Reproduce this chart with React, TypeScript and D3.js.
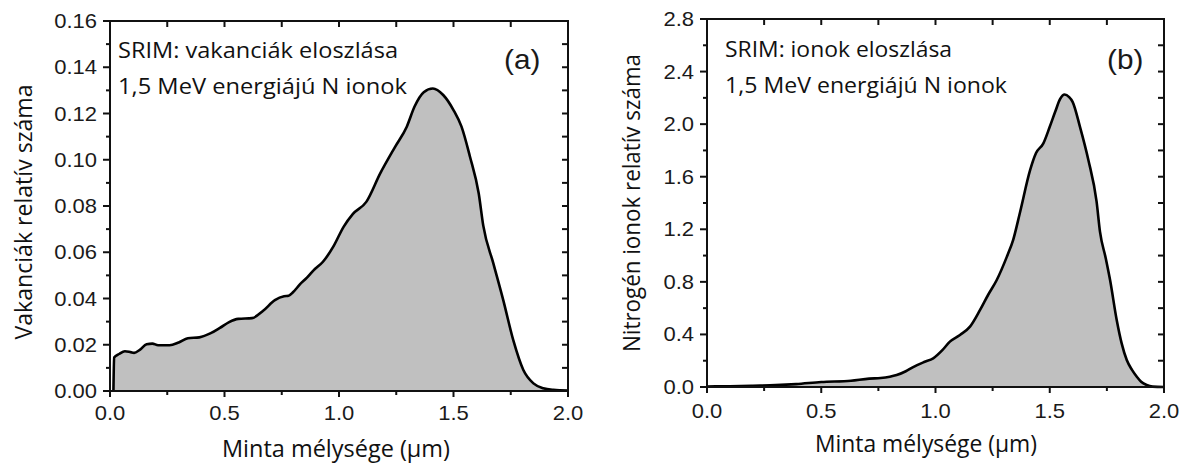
import React from 'react';
import * as d3 from 'd3';

// ---- data ----
const vacancyDepth = [0.015, 0.018, 0.04, 0.065, 0.09, 0.105, 0.13, 0.16, 0.185, 0.21, 0.26, 0.3, 0.34, 0.39, 0.44, 0.48, 0.52, 0.56, 0.62, 0.67, 0.72, 0.76, 0.78, 0.8, 0.83, 0.86, 0.89, 0.93, 0.975, 1.02, 1.06, 1.12, 1.18, 1.245, 1.296, 1.33, 1.37, 1.41, 1.455, 1.5, 1.535, 1.572, 1.61, 1.63, 1.674, 1.717, 1.761, 1.805, 1.849, 1.892, 1.936, 2.0];
const vacancyCount = [0, 0.0145, 0.016, 0.0172, 0.0168, 0.0165, 0.0178, 0.0202, 0.0205, 0.0198, 0.0198, 0.021, 0.0228, 0.0232, 0.025, 0.0273, 0.0298, 0.0312, 0.0315, 0.0348, 0.0393, 0.041, 0.0412, 0.0428, 0.0462, 0.049, 0.0523, 0.0559, 0.0624, 0.071, 0.0765, 0.0819, 0.0941, 0.1056, 0.1143, 0.123, 0.1292, 0.1308, 0.128, 0.1215, 0.1143, 0.1013, 0.0855, 0.0715, 0.0552, 0.0394, 0.022, 0.0091, 0.0033, 0.0012, 0.0005, 0.0002];

const ionDepth = [0, 0.1, 0.2, 0.3, 0.39, 0.5, 0.63, 0.71, 0.76, 0.8, 0.83, 0.87, 0.9, 0.95, 0.99, 1.03, 1.063, 1.107, 1.151, 1.195, 1.23, 1.268, 1.312, 1.34, 1.37, 1.414, 1.44, 1.472, 1.5, 1.525, 1.545, 1.565, 1.585, 1.6, 1.632, 1.669, 1.705, 1.72, 1.745, 1.764, 1.793, 1.815, 1.837, 1.86, 1.881, 1.9, 1.924, 1.95, 2.0];
const ionCount = [0.004, 0.006, 0.01, 0.014, 0.022, 0.038, 0.048, 0.064, 0.068, 0.078, 0.091, 0.12, 0.15, 0.19, 0.218, 0.28, 0.345, 0.396, 0.459, 0.586, 0.7, 0.814, 0.99, 1.12, 1.33, 1.65, 1.78, 1.854, 1.98, 2.1, 2.19, 2.225, 2.205, 2.17, 1.981, 1.727, 1.41, 1.18, 0.98, 0.814, 0.51, 0.33, 0.205, 0.13, 0.078, 0.04, 0.015, 0.003, 0];

const xMajorTicks = [0, 0.5, 1.0, 1.5, 2.0];
const xTickLabels = ['0.0', '0.5', '1.0', '1.5', '2.0'];
const xMinorTicks = [0.25, 0.75, 1.25, 1.75];
const xTopTicks = [0.25, 0.5, 0.75, 1.0, 1.25, 1.5, 1.75];

const vacYTicks = [0, 0.02, 0.04, 0.06, 0.08, 0.1, 0.12, 0.14, 0.16];
const vacYLabels = ['0.00', '0.02', '0.04', '0.06', '0.08', '0.10', '0.12', '0.14', '0.16'];
const vacYMinor = [0.01, 0.03, 0.05, 0.07, 0.09, 0.11, 0.13, 0.15];

const ionYTicks = [0, 0.4, 0.8, 1.2, 1.6, 2.0, 2.4, 2.8];
const ionYLabels = ['0.0', '0.4', '0.8', '1.2', '1.6', '2.0', '2.4', '2.8'];
const ionYMinor = [0.2, 0.6, 1.0, 1.4, 1.8, 2.2, 2.6];

const xTitle = 'Minta mélysége (μm)';
const vacYTitle = 'Vakanciák relatív száma';
const ionYTitle = 'Nitrogén ionok relatív száma';
const vacNote = ['SRIM: vakanciák eloszlása', '1,5 MeV energiájú N ionok'];
const ionNote = ['SRIM: ionok eloszlása', '1,5 MeV energiájú N ionok'];

const NUM_FONT = '"Liberation Sans", Arial, sans-serif';
const TXT_FONT = '"Open Sans", "Noto Sans", sans-serif';

type PanelProps = {
  left: number; right: number; top: number; bottom: number;
  yMax: number; yTicks: number[]; yLabels: string[]; yMinor: number[];
  xs: number[]; ys: number[];
  yTitle: string; yTitleX: number; yTitleY: number; yTitleLen: number;
  xTitleX: number; xTitleY: number; xTitleLen: number;
  note: string[]; noteX: number; noteY: number[]; noteLen: number[];
  tag: string; tagX: number; tagY: number;
  xLabelY: number;
};

function Panel(p: PanelProps) {
  const x = d3.scaleLinear().domain([0, 2]).range([p.left, p.right]);
  const y = d3.scaleLinear().domain([0, p.yMax]).range([p.bottom, p.top]);
  const pts: [number, number][] = p.xs.map((d, i) => [d, p.ys[i]]);
  const area = d3.area<[number, number]>()
    .x(d => x(d[0])).y0(y(0)).y1(d => y(d[1])).curve(d3.curveMonotoneX);
  const line = d3.line<[number, number]>()
    .x(d => x(d[0])).y(d => y(d[1])).curve(d3.curveMonotoneX);
  const rightTicks = [...p.yTicks, ...p.yMinor].filter(v => v > 0 && v < p.yMax);
  return (
    <g>
      <path d={area(pts) || ''} fill="#c0c0c0" stroke="none" />
      <path d={line(pts) || ''} fill="none" stroke="#000" strokeWidth={2.6} strokeLinejoin="round" />
      <rect x={p.left} y={p.top} width={p.right - p.left} height={p.bottom - p.top} fill="none" stroke="#111" strokeWidth={2} />
      {p.yTicks.map((v, i) => (
        <g key={'yt' + i}>
          <line x1={p.left - 7} x2={p.left} y1={y(v)} y2={y(v)} stroke="#111" strokeWidth={2} />
          <text transform={`translate(${p.left - 13},${y(v) + 7}) scale(1.1,1)`} textAnchor="end"
            fontFamily={NUM_FONT} fontSize={20} fill="#1a1a1a">{p.yLabels[i]}</text>
        </g>
      ))}
      {p.yMinor.map((v, i) => (
        <line key={'ym' + i} x1={p.left - 4} x2={p.left} y1={y(v)} y2={y(v)} stroke="#111" strokeWidth={2} />
      ))}
      {rightTicks.map((v, i) => (
        <line key={'yr' + i} x1={p.right - 6} x2={p.right} y1={y(v)} y2={y(v)} stroke="#111" strokeWidth={2} />
      ))}
      {xMajorTicks.map((v, i) => (
        <g key={'xt' + i}>
          <line x1={x(v)} x2={x(v)} y1={p.bottom} y2={p.bottom + 6} stroke="#111" strokeWidth={2} />
          <text transform={`translate(${x(v)},${p.xLabelY}) scale(1.1,1)`} textAnchor="middle"
            fontFamily={NUM_FONT} fontSize={20} fill="#1a1a1a">{xTickLabels[i]}</text>
        </g>
      ))}
      {xMinorTicks.map((v, i) => (
        <line key={'xm' + i} x1={x(v)} x2={x(v)} y1={p.bottom} y2={p.bottom + 4} stroke="#111" strokeWidth={2} />
      ))}
      {xTopTicks.map((v, i) => (
        <line key={'xtop' + i} x1={x(v)} x2={x(v)} y1={p.top} y2={p.top + 6} stroke="#111" strokeWidth={2} />
      ))}
      <text x={p.xTitleX} y={p.xTitleY} textAnchor="middle" fontFamily={TXT_FONT} fontSize={23}
        textLength={p.xTitleLen} lengthAdjust="spacingAndGlyphs" fill="#111">{xTitle}</text>
      <text transform={`translate(${p.yTitleX},${p.yTitleY}) rotate(-90)`} textAnchor="middle" fontFamily={TXT_FONT}
        fontSize={23} textLength={p.yTitleLen} lengthAdjust="spacingAndGlyphs" fill="#111">{p.yTitle}</text>
      {p.note.map((t, i) => (
        <text key={'n' + i} x={p.noteX} y={p.noteY[i]} fontFamily={TXT_FONT} fontSize={21}
          textLength={p.noteLen[i]} lengthAdjust="spacingAndGlyphs" fill="#111">{t}</text>
      ))}
      <text transform={`translate(${p.tagX},${p.tagY}) scale(1.1,1)`} fontFamily={NUM_FONT} fontSize={27} fill="#1a1a1a">{p.tag}</text>
    </g>
  );
}

export default function App() {
  return (
    <svg width={1186} height={464} style={{ position: 'absolute', left: 0, top: 0, background: '#fff' }}>
      <rect x={0} y={0} width={1186} height={464} fill="#fff" />
      <Panel left={110} right={568} top={21} bottom={391} yMax={0.16}
        yTicks={vacYTicks} yLabels={vacYLabels} yMinor={vacYMinor}
        xs={vacancyDepth} ys={vacancyCount}
        yTitle={vacYTitle} yTitleX={32} yTitleY={212} yTitleLen={255}
        xTitleX={336} xTitleY={457} xTitleLen={228}
        note={vacNote} noteX={118} noteY={[58, 94]} noteLen={[280, 289]}
        tag="(a)" tagX={504} tagY={69} xLabelY={420} />
      <Panel left={707} right={1164} top={19} bottom={387} yMax={2.8}
        yTicks={ionYTicks} yLabels={ionYLabels} yMinor={ionYMinor}
        xs={ionDepth} ys={ionCount}
        yTitle={ionYTitle} yTitleX={640} yTitleY={203} yTitleLen={298}
        xTitleX={926} xTitleY={452} xTitleLen={222}
        note={ionNote} noteX={725} noteY={[57, 93]} noteLen={[227, 282]}
        tag="(b)" tagX={1107} tagY={69} xLabelY={418} />
    </svg>
  );
}
